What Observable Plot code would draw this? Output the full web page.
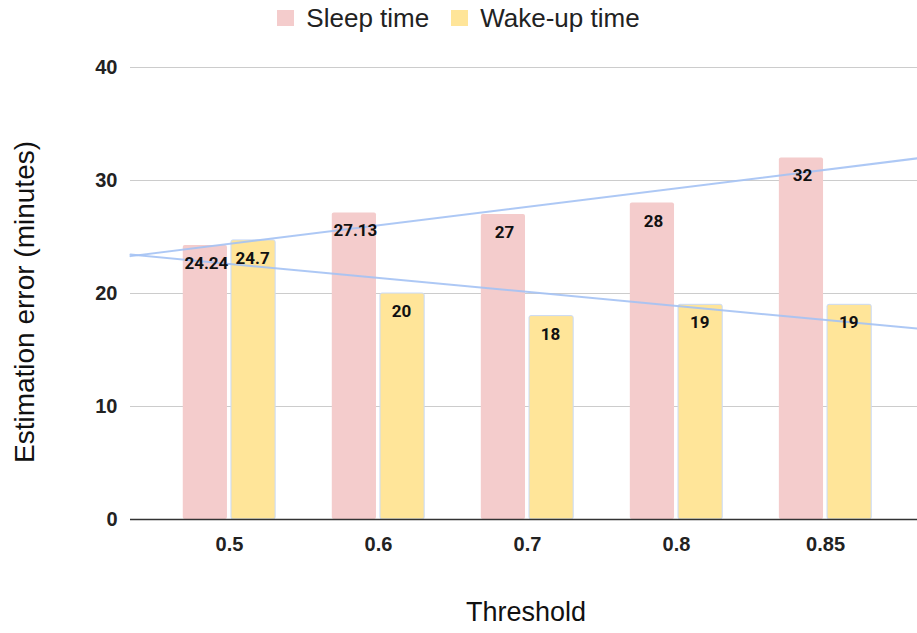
<!DOCTYPE html>
<html>
<head>
<meta charset="utf-8">
<script src="https://cdn.jsdelivr.net/npm/d3@7"></script>
<script src="https://cdn.jsdelivr.net/npm/@observablehq/plot@0.6"></script>
<style>
  body { margin: 0; background: #fff; }
  #wrap { position: relative; width: 917px; height: 633px; font-family: "Liberation Sans", Arial, sans-serif; }
  #legend { position: absolute; top: 2px; left: 0; width: 917px; height: 32px; display: flex; justify-content: center; align-items: center; font-size: 26px; color: #222; z-index: 2; }
  .item { display: flex; align-items: center; margin: 0 11px; }
  .sw { width: 17px; height: 16px; margin-right: 12px; }
  #chart { position: absolute; top: 0; left: 0; }
  .title { position: absolute; white-space: nowrap; color: #111; z-index: 2; transform-origin: center; }
  #ytitle { left: 25px; top: 302px; font-size: 28px; transform: translate(-50%, -50%) rotate(-90deg); }
  #xtitle { left: 526px; top: 612px; font-size: 27px; transform: translate(-50%, -50%); }
</style>
</head>
<body>
<div id="wrap">
  <div id="legend"></div>
  <div id="chart"></div>
  <div class="title" id="ytitle">Estimation error (minutes)</div>
  <div class="title" id="xtitle">Threshold</div>
</div>
<script>
// Estimation error per detection threshold
const thresholds = ["0.5", "0.6", "0.7", "0.8", "0.85"];
const sleepTime = [24.24, 27.13, 27, 28, 32];
const wakeTime = [24.7, 20, 18, 19, 19];
const yTicks = [0, 10, 20, 30, 40];
const seriesNames = ["Sleep time", "Wake-up time"];
const seriesColors = ["#f4cccc", "#ffe599"];
const trendColor = "#a4c2f4";

// category positions 1..n on a linear x scale, with room on both sides for the trendlines
const idx = thresholds.map((_, i) => i + 1);
const xDomain = [1 - 0.664, thresholds.length + 0.617];
const half = 0.31; // half a group, in category units

const rows = [];
[sleepTime, wakeTime].forEach((vals, s) => {
  vals.forEach((v, i) => rows.push({series: seriesNames[s], s, i: idx[i], value: v}));
});

// least-squares trendline of each series against category index
function trend(vals) {
  const mx = d3.mean(idx), my = d3.mean(vals);
  const slope = d3.sum(idx, (x, k) => (x - mx) * (vals[k] - my)) / d3.sum(idx, x => (x - mx) ** 2);
  return xDomain.map(x => ({x, y: my + slope * (x - mx)}));
}
const trends = [trend(sleepTime), trend(wakeTime)];

// legend
const legend = document.getElementById("legend");
seriesNames.forEach((name, s) => {
  const it = document.createElement("div");
  it.className = "item";
  it.innerHTML = `<span class="sw" style="background:${seriesColors[s]}"></span><span>${name}</span>`;
  legend.appendChild(it);
});

const barOpts = {y1: 0, y2: "value", rx: 2};
const sleepRows = rows.filter(d => d.s === 0);
const wakeRows = rows.filter(d => d.s === 1);

const chart = Plot.plot({
  width: 917,
  height: 633,
  marginLeft: 130,
  marginRight: 0,
  marginTop: 67,
  marginBottom: 114,
  style: {fontFamily: "'Liberation Sans', Arial, sans-serif", color: "#222", background: "transparent"},
  x: {domain: xDomain},
  y: {domain: [0, 40]},
  marks: [
    Plot.ruleY(yTicks.filter(d => d > 0), {stroke: "#cccccc", strokeWidth: 1}),
    Plot.rect(sleepRows, {...barOpts, x1: d => d.i - half, x2: "i", insetRight: 2, fill: seriesColors[0]}),
    Plot.rect(wakeRows, {...barOpts, x1: "i", x2: d => d.i + half, insetLeft: 2, fill: seriesColors[1], stroke: "#c9daf8", strokeWidth: 1}),
    Plot.ruleY([0], {stroke: "#333", strokeWidth: 1.5}),
    Plot.line(trends[0], {x: "x", y: "y", stroke: trendColor, strokeWidth: 2, strokeOpacity: 0.9}),
    Plot.line(trends[1], {x: "x", y: "y", stroke: trendColor, strokeWidth: 2, strokeOpacity: 0.9}),
    Plot.text(rows, {
      x: d => d.s === 0 ? d.i - half / 2 : d.i + half / 2,
      y: "value",
      text: d => String(d.value),
      dy: 18,
      fontSize: 17,
      fontWeight: "bold",
      fontFamily: "Roboto, sans-serif",
      fill: "#111"
    }),
    Plot.axisY(yTicks, {tickSize: 0, tickPadding: 13, fontSize: 20, fontWeight: "bold", label: null}),
    Plot.axisX(idx, {tickSize: 0, tickPadding: 17, fontSize: 20, fontWeight: "bold", tickFormat: i => thresholds[i - 1], label: null})
  ]
});
document.getElementById("chart").appendChild(chart);
</script>
</body>
</html>
